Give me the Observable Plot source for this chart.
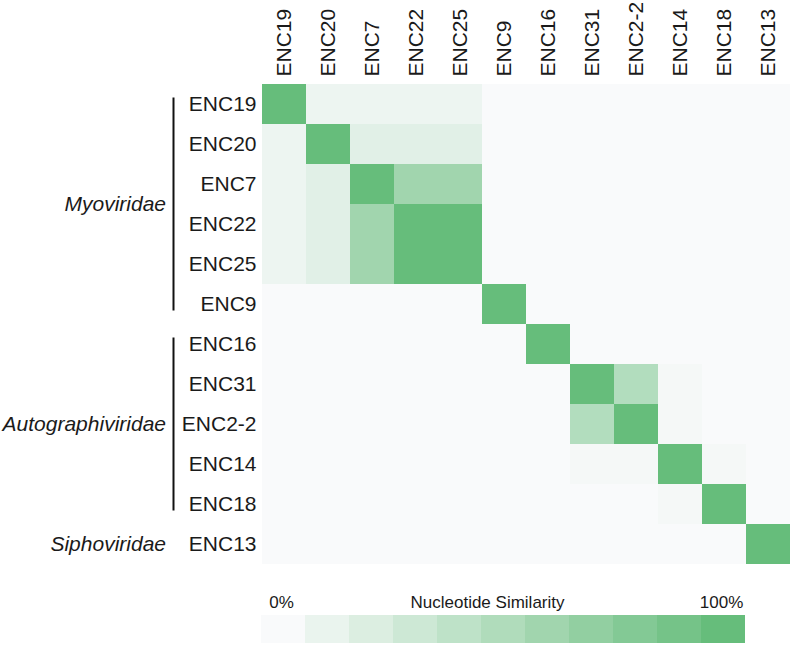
<!DOCTYPE html>
<html>
<head>
<meta charset="utf-8">
<script src="https://cdn.jsdelivr.net/npm/d3@7"></script>
<script src="https://cdn.jsdelivr.net/npm/@observablehq/plot@0.6"></script>
<style>
  html, body { margin: 0; padding: 0; background: #ffffff; }
  svg { display: block; }
</style>
</head>
<body>
<div id="chart"></div>
<script>
// ---- data ----
const phages = ["ENC19","ENC20","ENC7","ENC22","ENC25","ENC9","ENC16","ENC31","ENC2-2","ENC14","ENC18","ENC13"];
// nucleotide similarity (%) row by row, columns in the same order as phages
const similarity = [
  [100,  8,  8,  8,  8,  0,  0,  0,  0,  0,  0,  0],
  [  8,100, 16, 16, 16,  0,  0,  0,  0,  0,  0,  0],
  [  8, 16,100, 60, 60,  0,  0,  0,  0,  0,  0,  0],
  [  8, 16, 60,100,100,  0,  0,  0,  0,  0,  0,  0],
  [  8, 16, 60,100,100,  0,  0,  0,  0,  0,  0,  0],
  [  0,  0,  0,  0,  0,100,  0,  0,  0,  0,  0,  0],
  [  0,  0,  0,  0,  0,  0,100,  0,  0,  0,  0,  0],
  [  0,  0,  0,  0,  0,  0,  0,100, 48,  3,  0,  0],
  [  0,  0,  0,  0,  0,  0,  0, 48,100,  3,  0,  0],
  [  0,  0,  0,  0,  0,  0,  0,  3,  3,100,  3,  0],
  [  0,  0,  0,  0,  0,  0,  0,  0,  0,  3,100,  0],
  [  0,  0,  0,  0,  0,  0,  0,  0,  0,  0,  0,100]
];
const families = ["Myoviridae","Autographiviridae","Siphoviridae"];
const familyFirst = ["ENC19","ENC16","ENC13"];
const familyLast  = ["ENC9","ENC18","ENC13"];
const legendBins = [0,10,20,30,40,50,60,70,80,90,100];
const legendEnds = ["0%","100%"];
const legendTitle = "Nucleotide Similarity";

// ---- build table ----
const cells = [];
phages.forEach((r, i) => phages.forEach((c, j) => cells.push({row: r, col: c, value: similarity[i][j]})));

const FONT = "'Liberation Sans', Arial, Helvetica, sans-serif";
const colorOpts = {type: "linear", domain: [0, 100], range: ["#f9fafb", "#66bd7b"], interpolate: "rgb"};

const chart = Plot.plot({
  width: 792,
  height: 575,
  marginLeft: 261,
  marginRight: 2,
  marginTop: 81,
  marginBottom: 8,
  style: {fontFamily: FONT, fontSize: "21px", color: "#1a1a1a", background: "#ffffff"},
  x: {type: "band", domain: phages, padding: 0},
  y: {type: "band", domain: phages, padding: 0},
  color: colorOpts,
  marks: [
    Plot.cell(cells, {x: "col", y: "row", fill: "value"}),
    Plot.axisX({anchor: "top", tickRotate: -90, tickSize: 0, tickPadding: 5, fontSize: 21, label: null}),
    Plot.axisY({anchor: "left", tickSize: 0, tickPadding: 5, fontSize: 21, label: null})
  ]
});

// family brackets and labels, positioned with the plot's own y scale
const yS = chart.scale("y");
const bw = yS.bandwidth;
const svg = d3.select(chart);
families.forEach((f, i) => {
  const yTop = yS.apply(familyFirst[i]);
  const yBot = yS.apply(familyLast[i]) + bw;
  const mid = (yTop + yBot) / 2;
  if (familyFirst[i] !== familyLast[i]) {
    svg.append("line")
      .attr("x1", 173.5).attr("x2", 173.5)
      .attr("y1", yTop + 13.5).attr("y2", yBot - 13.5)
      .attr("stroke", "#111").attr("stroke-width", 2);
  }
  svg.append("text")
    .attr("x", 166).attr("y", mid)
    .attr("dy", "0.35em")
    .attr("text-anchor", "end")
    .attr("font-style", "italic")
    .attr("font-size", 21)
    .attr("font-family", FONT)
    .attr("fill", "#1a1a1a")
    .text(f);
});

const legend = Plot.plot({
  width: 792,
  height: 70,
  marginLeft: 260,
  marginRight: 47,
  marginTop: 40,
  marginBottom: 2,
  style: {fontFamily: FONT, fontSize: "17px", color: "#1a1a1a", background: "#ffffff"},
  x: {type: "band", domain: legendBins, padding: 0, axis: null},
  y: {axis: null},
  color: colorOpts,
  marks: [
    Plot.cell(legendBins, {x: d => d, fill: d => d}),
    Plot.text(legendEnds, {x: (d, i) => legendBins[i === 0 ? 0 : legendBins.length - 1], text: d => d, frameAnchor: "top", dy: -20, dx: -2, fontSize: 17, fill: "#1a1a1a"}),
    Plot.text([legendTitle], {x: () => legendBins[5], text: d => d, frameAnchor: "top", dy: -20, dx: -16, fontSize: 17, fill: "#1a1a1a"})
  ]
});

const root = document.getElementById("chart");
root.appendChild(chart);
root.appendChild(legend);
</script>
</body>
</html>
